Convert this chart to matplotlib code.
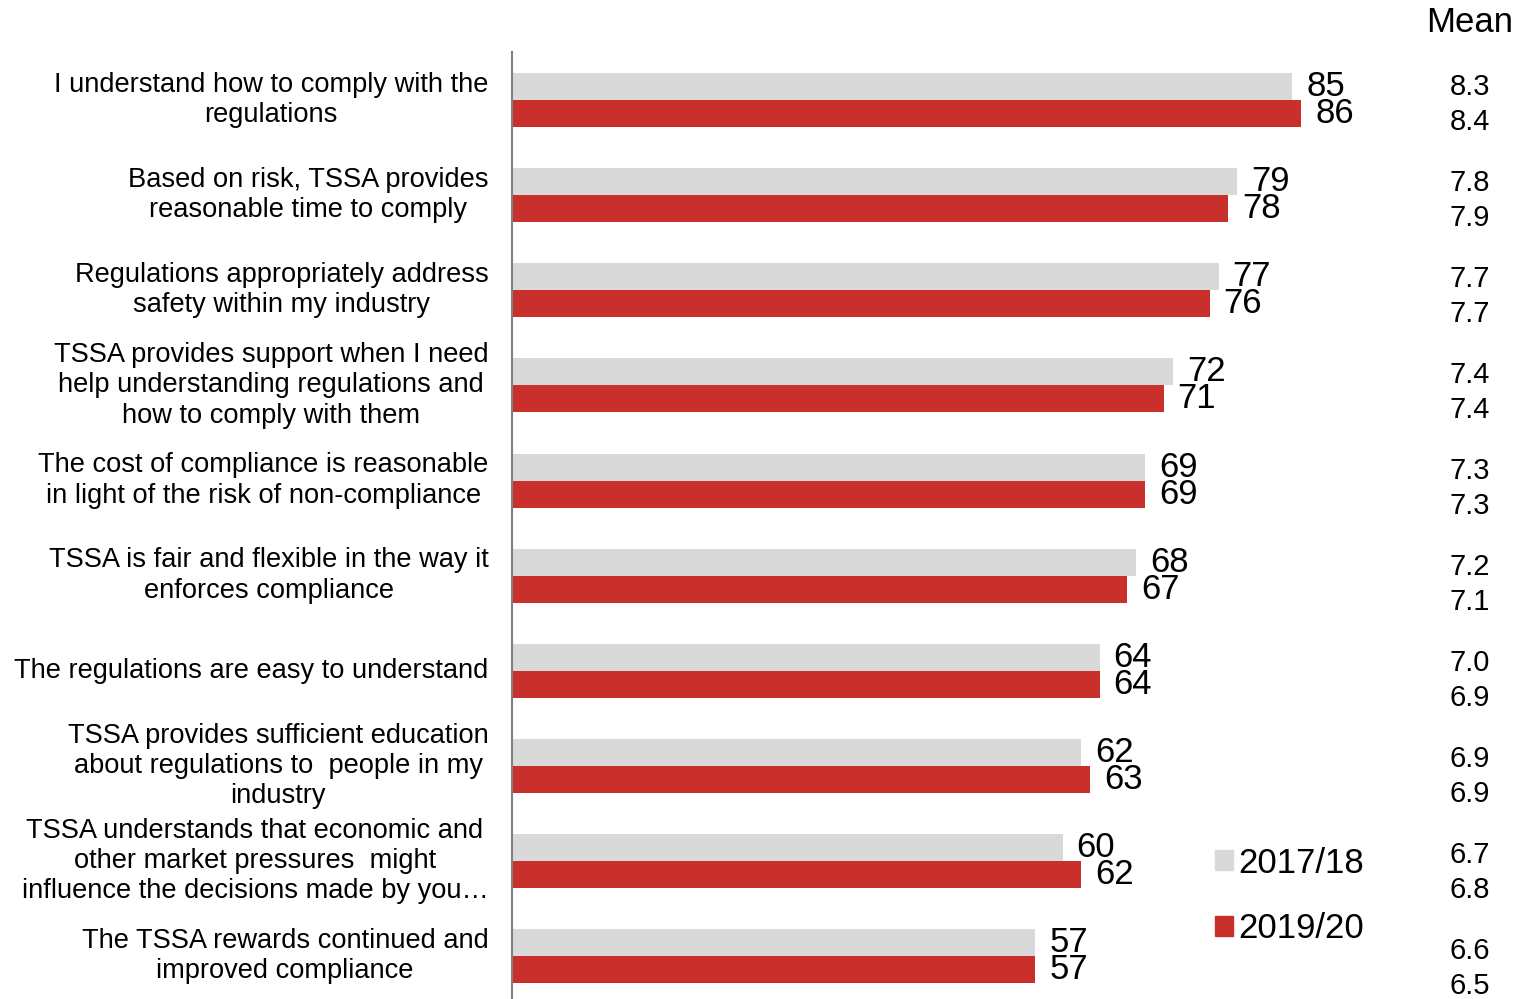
import numpy as np
import matplotlib
matplotlib.use("Agg")
import matplotlib.pyplot as plt
import matplotlib.transforms as mtrans
from matplotlib.patches import Patch

plt.rcParams['font.family'] = ['Liberation Sans', 'DejaVu Sans']

# statements, top to bottom
labels = [
    "I understand how to comply with the\nregulations",
    "Based on risk, TSSA provides\nreasonable time to comply",
    "Regulations appropriately address\nsafety within my industry",
    "TSSA provides support when I need\nhelp understanding regulations and\nhow to comply with them",
    "The cost of compliance is reasonable\nin light of the risk of non-compliance",
    "TSSA is fair and flexible in the way it\nenforces compliance",
    "The regulations are easy to understand",
    "TSSA provides sufficient education\nabout regulations to  people in my\nindustry",
    "TSSA understands that economic and\nother market pressures  might\ninfluence the decisions made by you\u2026",
    "The TSSA rewards continued and\nimproved compliance",
]
series = ["2017/18", "2019/20"]
vals_1718 = [85, 79, 77, 72, 69, 68, 64, 62, 60, 57]
vals_1920 = [86, 78, 76, 71, 69, 67, 64, 63, 62, 57]
mean_1718 = [8.3, 7.8, 7.7, 7.4, 7.3, 7.2, 7.0, 6.9, 6.7, 6.6]
mean_1920 = [8.4, 7.9, 7.7, 7.4, 7.3, 7.1, 6.9, 6.9, 6.8, 6.5]

grey = "#D9D9D9"
red = "#C9302C"

W, H = 1519, 999
fig = plt.figure(figsize=(W / 100, H / 100), dpi=100)
ax = fig.add_axes([512 / W, 0, 1 - 512 / W, 1 - 52 / H])

y = np.arange(len(labels))
bh = 0.284
ax.barh(y - bh / 2, vals_1718, height=bh, color=grey)
ax.barh(y + bh / 2, vals_1920, height=bh, color=red)

for i in range(len(labels)):
    ax.annotate(str(vals_1718[i]), (vals_1718[i], y[i] - bh / 2), xytext=(10, 0),
                textcoords="offset points", ha="left", va="center", fontsize=25)
    ax.annotate(str(vals_1920[i]), (vals_1920[i], y[i] + bh / 2), xytext=(10, 0),
                textcoords="offset points", ha="left", va="center", fontsize=25)
    # category label on the left of the axis
    ax.annotate(labels[i], (0, y[i]), xytext=(-17, 0), textcoords="offset points",
                ha="right", va="center", multialignment="center", fontsize=19.6,
                linespacing=1.22, annotation_clip=False)

ax.set_xlim(0, (W - 512) / 9.18)
ax.set_ylim(9.45, -0.505)

# mean values, figure x and data y
tr = mtrans.blended_transform_factory(fig.transFigure, ax.transData)
for i in range(len(labels)):
    ax.text(1470 / W, y[i] - 0.14 + i * 0.009, f"{mean_1718[i]:.1f}", transform=tr,
            ha="center", va="center", fontsize=21, clip_on=False)
    ax.text(1470 / W, y[i] + 0.23 + i * 0.009, f"{mean_1920[i]:.1f}", transform=tr,
            ha="center", va="center", fontsize=21, clip_on=False)
fig.text(1470 / W, 1 - 22 / H, "Mean", ha="center", va="center", fontsize=25)

for s in ["top", "right", "bottom"]:
    ax.spines[s].set_visible(False)
ax.spines["left"].set_color("#808080")
ax.spines["left"].set_linewidth(1.5)
ax.set_xticks([])
ax.set_yticks([])

handles = [Patch(color=grey), Patch(color=red)]
ax.legend(handles, series, loc="center left", bbox_to_anchor=(1184 / W, 1 - 896 / H),
          bbox_transform=fig.transFigure, frameon=False, fontsize=25,
          handlelength=0.5, handleheight=0.5, handletextpad=0.15, labelspacing=0.95)

fig.savefig("out.png", dpi=100)
